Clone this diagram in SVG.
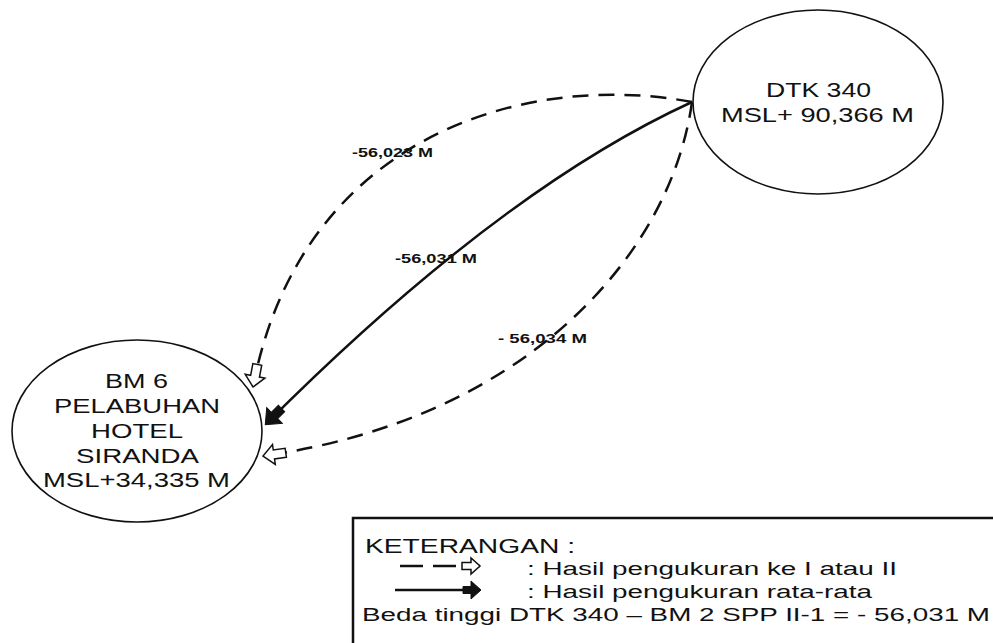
<svg xmlns="http://www.w3.org/2000/svg" width="993" height="643" viewBox="0 0 993 643">
  <style>
    .node { fill: #ffffff; stroke: #111; stroke-width: 1.6; }
    .nt { font-family: "Liberation Sans", Arial, sans-serif; fill: #111; }
    .big { font-size: 21px; }
    .mid { font-size: 20px; }
    .el { font-size: 13px; font-weight: bold; }
    .lg { font-size: 18px; }
    .edge { fill: none; stroke: #111; stroke-width: 2.5; }
    .dash { stroke-dasharray: 16 10; }
  </style>
  <defs>
    <marker id="hollow" markerUnits="userSpaceOnUse" viewBox="-20 -10 22 20" refX="0" refY="0" markerWidth="22" markerHeight="20" orient="auto">
      <path d="M-18 -3.5 L-9 -3.5 L-9 -8 L0 0 L-9 8 L-9 3.5 L-18 3.5 Z" fill="#fff" stroke="#111" stroke-width="1.5"/>
    </marker>
    <marker id="solid" markerUnits="userSpaceOnUse" viewBox="-20 -10 22 20" refX="0" refY="0" markerWidth="22" markerHeight="20" orient="auto">
      <path d="M-17 -3.5 L-9 -3.5 L-9 -9 L1 0 L-9 9 L-9 3.5 L-17 3.5 Z" fill="#111" stroke="#111" stroke-width="1"/>
    </marker>
    <marker id="hollowBig" markerUnits="userSpaceOnUse" viewBox="-26 -13 28 26" refX="0" refY="0" markerWidth="28" markerHeight="26" orient="auto">
      <path d="M-23 -4.5 L-11 -4.5 L-11 -10 L0 0 L-11 10 L-11 4.5 L-23 4.5 Z" fill="#fff" stroke="#111" stroke-width="1.5"/>
    </marker>
    <marker id="solidBig" markerUnits="userSpaceOnUse" viewBox="-26 -13 28 26" refX="0" refY="0" markerWidth="28" markerHeight="26" orient="auto">
      <path d="M-22 -4.5 L-12 -4.5 L-12 -11 L1 0 L-12 11 L-12 4.5 L-22 4.5 Z" fill="#111" stroke="#111" stroke-width="1"/>
    </marker>
  </defs>

  <rect width="993" height="643" fill="#ffffff"/>

  <g id="connectors">
    <path id="e-outer" class="edge dash" d="M692 102 C520 70 300 140 253 387" marker-end="url(#hollowBig)"/>
    <path id="e-mean" class="edge" d="M692 102 Q500 190 266 424" marker-end="url(#solidBig)"/>
    <path id="e-inner" class="edge dash" d="M692 102 C670 260 520 420 263 456" marker-end="url(#hollowBig)"/>
    <text class="nt el" x="352" y="157" textLength="81" lengthAdjust="spacingAndGlyphs">-56,023 M</text>
    <text class="nt el" x="395" y="263" textLength="82" lengthAdjust="spacingAndGlyphs">-56,031 M</text>
    <text class="nt el" x="498" y="343" textLength="89" lengthAdjust="spacingAndGlyphs">- 56,034 M</text>
  </g>

  <g id="node-dtk340">
    <ellipse class="node" cx="818" cy="102" rx="125" ry="92"/>
    <text class="nt big" x="766" y="97" textLength="105" lengthAdjust="spacingAndGlyphs">DTK 340</text>
    <text class="nt big" x="721" y="122" textLength="193" lengthAdjust="spacingAndGlyphs">MSL+ 90,366 M</text>
  </g>

  <g id="node-bm6">
    <ellipse class="node" cx="137" cy="431" rx="125" ry="91"/>
    <text class="nt mid" x="105" y="388" textLength="63" lengthAdjust="spacingAndGlyphs">BM 6</text>
    <text class="nt mid" x="54" y="413" textLength="166" lengthAdjust="spacingAndGlyphs">PELABUHAN</text>
    <text class="nt mid" x="91" y="438" textLength="92" lengthAdjust="spacingAndGlyphs">HOTEL</text>
    <text class="nt mid" x="76" y="463" textLength="123" lengthAdjust="spacingAndGlyphs">SIRANDA</text>
    <text class="nt mid" x="43" y="487" textLength="187" lengthAdjust="spacingAndGlyphs">MSL+34,335 M</text>
  </g>

  <g id="legend">
    <path d="M353 645 V518 H995" fill="none" stroke="#111" stroke-width="2.5"/>
    <text class="nt mid" x="365" y="553" textLength="210" lengthAdjust="spacingAndGlyphs">KETERANGAN :</text>
    <path d="M400 566 H480" fill="none" stroke="#111" stroke-width="2.5" stroke-dasharray="23 10" marker-end="url(#hollow)"/>
    <text class="nt lg" x="527" y="575" textLength="370" lengthAdjust="spacingAndGlyphs">: Hasil pengukuran ke I atau II</text>
    <path d="M395 590 H480" fill="none" stroke="#111" stroke-width="2.5" marker-end="url(#solid)"/>
    <text class="nt lg" x="527" y="598" textLength="345" lengthAdjust="spacingAndGlyphs">: Hasil pengukuran rata-rata</text>
    <text class="nt lg" x="362" y="621" textLength="628" lengthAdjust="spacingAndGlyphs">Beda tinggi DTK 340 – BM 2 SPP II-1 = - 56,031 M</text>
  </g>
</svg>
